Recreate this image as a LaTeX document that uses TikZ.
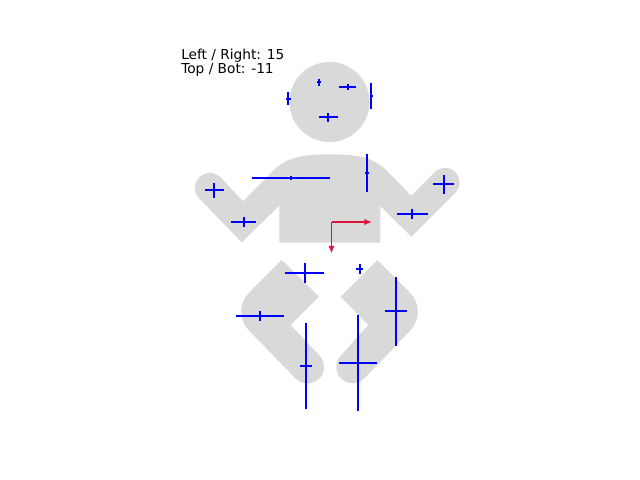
\documentclass[tikz,border=0pt]{standalone}
\usepackage{fontspec}
\setmainfont{DejaVu Sans}
\usepackage{xcolor}
\definecolor{bodygrey}{RGB}{217,217,217}
\definecolor{axisred}{RGB}{220,20,60}
\usepackage{tikz}
\usetikzlibrary{arrows.meta, positioning}
\tikzset{
  bodypart/.style={fill=bodygrey, draw=none},
  spreadbar/.style={draw=blue, line width=1.5pt},
  axisarrow/.style={draw=axisred, line width=1.2pt, -{Latex[length=5.5pt,width=4.5pt]}},
  score/.style={anchor=base west, inner sep=0pt, font=\fontsize{9.9}{12}\selectfont},
}

\begin{document}
\begin{tikzpicture}[x=0.01in, y=-0.01in]
  \useasboundingbox (0,0) rectangle (640,480);

  \fill [bodypart] (329.5,102) circle [radius=40];
  \fill [bodypart] (210,188) circle [radius=15];
  \fill [bodypart] (445,182.5) circle [radius=14.5];
  \fill [bodypart] (307.5,367) circle [radius=16.5];
  \fill [bodypart] (352.5,367) circle [radius=16.2];

  \fill [bodypart] (279.3,242.7) -- (279.3,205.7) -- (241.7,242.3) -- (199.4,198.6) -- (220.6,177.4) -- (243,201.3)
    -- (270,174) .. controls (283,160) and (295,154.3) .. (330,154.3) .. controls (365,154.3) and (377,160) .. (390,174)
    -- (411.3,195.7) -- (434.75,172.25) -- (455.25,192.75) -- (411.3,236.7) -- (380.3,206) -- (380.3,242.7) -- cycle;

  \fill [bodypart] (319,296.7) -- (290.7,325) -- (319.2,355.3) -- (295.8,378.7)
    [rounded corners=19pt] -- (230.35,311.35) [sharp corners] -- (281.7,260) -- cycle;
  \fill [bodypart] (340.7,296.7) -- (368.3,325) -- (341,355.3) -- (364,378.7)
    [rounded corners=19pt] -- (428.65,311.35) [sharp corners] -- (377.3,260) -- cycle;

  \foreach \cx/\cy/\xa/\xb/\ya/\yb in {
      288/99/286/290.7/92/104.7, 319/82/317.3/320.7/79/85.7, 348/87/339/356/84/90,
      371/96/370/373/82.7/109, 328/117/319/338/113.3/121.7,
      290.7/177.7/252/330/176/179.7, 367/173/365/369/154/192,
      214.3/190.3/205/224/183.3/197.7, 244/222/231/256/217.3/227,
      443.7/183.7/433/454/175/193.7, 412.3/213.7/397/428/209/218.7,
      305/272.7/285/324/263/282.7, 359.7/269/356/363/264/274, 260/316/236/284/311/321,
      306/366/300/312/323/409, 358/363/339/377/315/411, 396/310.7/385/407/277/346} {
    \draw [spreadbar] (\xa,\cy) -- (\xb,\cy);
    \draw [spreadbar] (\cx,\ya) -- (\cx,\yb);
  }

  \coordinate (origin) at (331.5,222);
  \coordinate (rightend) at (372,222);
  \coordinate (downend) at (331.5,253.5);
  \draw [axisarrow] (origin) -- (rightend);
  \draw [axisarrow] (origin) -- (downend);

  \node (leftright) [score] at (181,60) {Left / Right: 15};
  \node (topbot)    [score] at (181,73.5) {Top / Bot: -11};
\end{tikzpicture}
\end{document}
